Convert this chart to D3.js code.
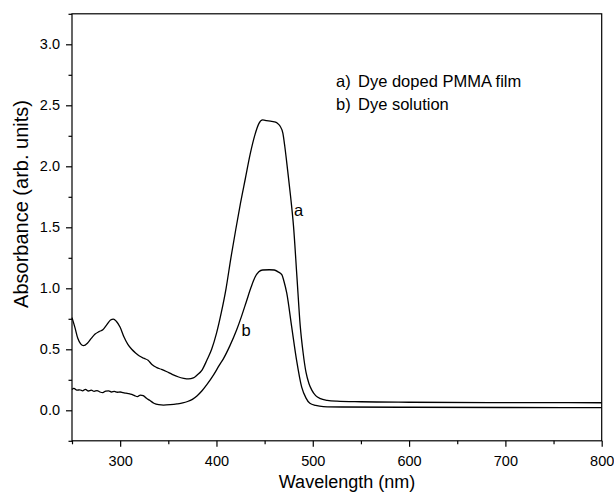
<!DOCTYPE html>
<html>
<head>
<meta charset="utf-8">
<script src="https://cdn.jsdelivr.net/npm/d3@7"></script>
<style>
  body { margin: 0; background: #fff; }
  svg { display: block; font-family: Arial, "Liberation Sans", Helvetica, sans-serif; }
  .axis text { font-size: 14.5px; fill: #000; }
  .axis line, .axis path { stroke: #000; stroke-width: 1.2; }
</style>
</head>
<body>
<div id="chart"></div>
<script>
// curve a: dye doped PMMA film
const filmWl = [250, 253, 256, 259, 262, 266, 270, 274, 278, 282, 286, 290, 293, 296, 300, 304, 308, 312, 316, 320,
  325, 329, 333, 338, 343, 348, 354, 360, 366, 371, 376, 380, 385, 390, 395, 400, 405, 410, 415, 420, 425, 430,
  435, 440, 444, 448, 452, 456, 460, 463, 466, 469, 471, 474, 477, 480, 483.5, 487, 490, 493, 496, 499, 503, 508,
  515, 525, 550, 600, 700, 800];
const filmAbs = [0.76, 0.68, 0.59, 0.545, 0.53, 0.55, 0.59, 0.625, 0.645, 0.66, 0.70, 0.74, 0.748, 0.73, 0.68, 0.60,
  0.54, 0.50, 0.47, 0.445, 0.425, 0.41, 0.375, 0.35, 0.335, 0.318, 0.295, 0.275, 0.262, 0.257, 0.265, 0.29, 0.33,
  0.41, 0.50, 0.63, 0.80, 1.00, 1.25, 1.48, 1.70, 1.90, 2.10, 2.26, 2.35, 2.38, 2.375, 2.37, 2.365, 2.355, 2.33,
  2.27, 2.16, 1.96, 1.75, 1.51, 1.10, 0.69, 0.47, 0.31, 0.22, 0.165, 0.12, 0.095, 0.082, 0.075, 0.070, 0.066,
  0.063, 0.062];

// curve b: dye solution
const solWl = [250, 252, 255, 258, 261, 264, 267, 270, 273, 276, 279, 282, 285, 288, 291, 294, 297, 300, 303, 306,
  309, 312, 315, 318, 321, 324, 327, 331, 335, 340, 345, 352, 359, 365, 370, 375, 380, 385, 390, 397, 403, 407,
  414, 421, 426, 431, 436, 440, 444, 448, 455, 460, 464, 468, 470, 473, 478, 483, 488.5, 493, 497, 503, 511, 530,
  600, 700, 800];
const solAbs = [0.17, 0.18, 0.165, 0.168, 0.16, 0.172, 0.158, 0.165, 0.155, 0.162, 0.15, 0.145, 0.158, 0.16, 0.15,
  0.155, 0.148, 0.15, 0.145, 0.14, 0.136, 0.13, 0.12, 0.112, 0.125, 0.12, 0.10, 0.08, 0.058, 0.046, 0.043, 0.046,
  0.052, 0.06, 0.072, 0.09, 0.12, 0.16, 0.21, 0.29, 0.37, 0.42, 0.53, 0.66, 0.77, 0.89, 1.01, 1.09, 1.135, 1.15,
  1.152, 1.15, 1.135, 1.11, 1.06, 0.96, 0.69, 0.42, 0.19, 0.10, 0.057, 0.04, 0.03, 0.027, 0.025, 0.023, 0.022];

const xMajor = [300, 400, 500, 600, 700, 800];
const xMinor = [250, 350, 450, 550, 650, 750];
const yMajor = [0, 0.5, 1.0, 1.5, 2.0, 2.5, 3.0];
const yMinor = [-0.25, 0.25, 0.75, 1.25, 1.75, 2.25, 2.75, 3.25];
const legendLines = [['a)', 'Dye doped PMMA film'], ['b)', 'Dye solution']];

const width = 614, height = 492;
const margin = { top: 13.8, right: 12.3, bottom: 51.2, left: 72 };

const svg = d3.select('#chart').append('svg')
  .attr('width', width)
  .attr('height', height);

const x = d3.scaleLinear().domain([250, 800]).range([margin.left, width - margin.right]);
const y = d3.scaleLinear().domain([-0.25, 3.25]).range([height - margin.bottom, margin.top]);

// minor ticks first
svg.append('g').attr('class', 'axis')
  .attr('transform', `translate(0,${height - margin.bottom})`)
  .call(d3.axisBottom(x).tickValues(xMinor).tickSize(3.5).tickSizeOuter(0).tickFormat(''))
  .call(g => g.select('.domain').remove());
svg.append('g').attr('class', 'axis')
  .attr('transform', `translate(${margin.left},0)`)
  .call(d3.axisLeft(y).tickValues(yMinor).tickSize(3.5).tickSizeOuter(0).tickFormat(''))
  .call(g => g.select('.domain').remove());

svg.append('g').attr('class', 'axis')
  .attr('transform', `translate(0,${height - margin.bottom})`)
  .call(d3.axisBottom(x).tickValues(xMajor).tickSize(6).tickPadding(9).tickSizeOuter(0).tickFormat(d3.format('d')))
  .call(g => g.select('.domain').remove());
svg.append('g').attr('class', 'axis')
  .attr('transform', `translate(${margin.left},0)`)
  .call(d3.axisLeft(y).tickValues(yMajor).tickSize(6).tickPadding(6).tickSizeOuter(0).tickFormat(d3.format('.1f')))
  .call(g => g.select('.domain').remove());

// frame
svg.append('rect')
  .attr('x', x(250)).attr('y', y(3.25))
  .attr('width', x(800) - x(250)).attr('height', y(-0.25) - y(3.25))
  .attr('fill', 'none').attr('stroke', '#000').attr('stroke-width', 1.2);

const line = d3.line()
  .x(d => x(d[0]))
  .y(d => y(d[1]))
  .curve(d3.curveMonotoneX);

svg.append('path')
  .datum(d3.zip(filmWl, filmAbs))
  .attr('d', line)
  .attr('fill', 'none').attr('stroke', '#000').attr('stroke-width', 1.3);
svg.append('path')
  .datum(d3.zip(solWl, solAbs))
  .attr('d', line)
  .attr('fill', 'none').attr('stroke', '#000').attr('stroke-width', 1.3);

// curve labels
svg.append('text').attr('x', 294).attr('y', 216).attr('font-size', 16.5).text('a');
svg.append('text').attr('x', 241.5).attr('y', 336).attr('font-size', 16.5).text('b');

// legend text
const legend = svg.append('g');
legendLines.forEach(([k, t], i) => {
  legend.append('text').attr('x', 336).attr('y', 87 + i * 23).attr('font-size', 16.5).text(k);
  legend.append('text').attr('x', 358).attr('y', 87 + i * 23).attr('font-size', 16.5).text(t);
});

// axis titles
svg.append('text')
  .attr('x', 347).attr('y', 488)
  .attr('text-anchor', 'middle').attr('font-size', 18)
  .text('Wavelength (nm)');
svg.append('text')
  .attr('transform', 'translate(28,204) rotate(-90)')
  .attr('text-anchor', 'middle').attr('font-size', 20)
  .text('Absorbance (arb. units)');
</script>
</body>
</html>
